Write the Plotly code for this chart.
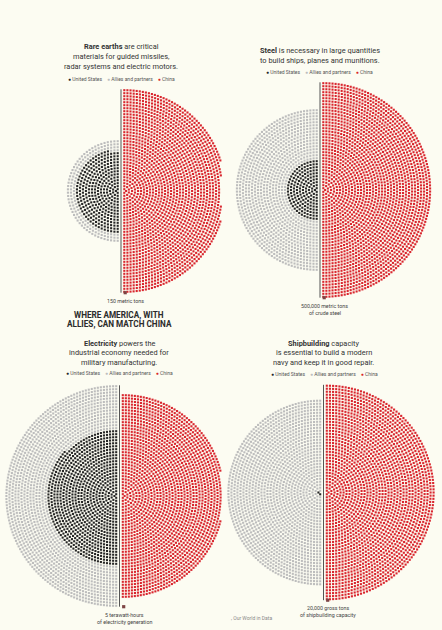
import numpy as np
import plotly.graph_objects as go

# ---------------- data (dots per panel) ----------------
panel_names = ["Rare earths", "Steel", "Electricity", "Shipbuilding"]
us_dots = [300, 165, 830, 2]
allies_dots = [140, 950, 1320, 1510]
china_dots = [1800, 2040, 1850, 1990]
unit_line1 = ["150 metric tons", "500,000 metric tons", "5 terawatt-hours", "20,000 gross tons"]
unit_line2 = ["", "of crude steel", "of electricity generation", "of shipbuilding capacity"]
title_lines = [
    ["<b>Rare earths</b> are critical", "materials for guided missiles,", "radar systems and electric motors."],
    ["<b>Steel</b> is necessary in large quantities", "to build ships, planes and munitions."],
    ["<b>Electricity</b> powers the", "industrial economy needed for", "military manufacturing."],
    ["<b>Shipbuilding</b> capacity", "is essential to build a modern", "navy and keep it in good repair."],
]
legend_labels = ["United States", "Allies and partners", "China"]
headline = ["WHERE AMERICA, WITH", "ALLIES, CAN MATCH CHINA"]
source_text = ", Our World in Data"

# ---------------- styling / layout ----------------
W, H = 442, 630
BG = "#fcfcf2"
C_US, C_AL, C_CN = "#262626", "#bdbdbd", "#d9262e"
PITCH = 3.0  # px per dot unit
FONT = "Roboto"
TXT = "#333333"

# panel boxes (px) and axis-line centre (px)
boxes = [(0, 221, 78, 302), (221, 442, 72, 308), (0, 221, 378, 614), (221, 442, 378, 614)]
centres = [(121, 191), (320, 190), (119.5, 496), (323.5, 492.5)]
title_y = [[46.7, 56.7, 66.3], [50.7, 60.3], [343.3, 352.7, 362.0], [343.3, 352.7, 362.3]]
title_x = [121, 320, 119.5, 323.7]
legend_y = [78.7, 72.0, 373.0, 374.3]
legend_x = [121, 319.7, 119.3, 324.8]


def px(x):
    return x / W


def py(y):
    return 1 - y / H


def ring_layout(n, side):
    # full ring capacities until n fits
    caps = []
    k = 0
    while sum(caps) < n:
        caps.append(int(round(np.pi * (k + 0.6))) + 1)
        k += 1
    caps = np.array(caps)
    deficit = caps.sum() - n
    # thin all rings proportionally so the outer edge stays crisp
    cut = np.floor(deficit * caps / caps.sum()).astype(int)
    rest = deficit - cut.sum()
    order = np.argsort(-caps)
    for idx in order[:rest]:
        cut[idx] += 1
    counts = caps - cut
    xs, ys = [], []
    for k, m in enumerate(counts):
        r = k + 0.6
        t = np.linspace(0, 1, m) if m > 1 else np.array([0.5])
        a = -np.pi / 2 + side * np.pi * t
        xs.extend(r * np.cos(a))
        ys.extend(r * np.sin(a))
    xs = np.array(xs[:n]) + side * 1.1
    ys = np.array(ys[:n])
    return xs, ys


fig = go.Figure()
shapes, annotations = [], []
layout_axes = {}

for i in range(4):
    sfx = "" if i == 0 else str(i + 1)
    xr, yr = "x" + sfx, "y" + sfx
    x0, x1, y0, y1 = boxes[i]
    cx, cy = centres[i]
    layout_axes["xaxis" + sfx] = dict(domain=[px(x0), px(x1)],
                                      range=[(x0 - cx) / PITCH, (x1 - cx) / PITCH],
                                      visible=False, fixedrange=True)
    layout_axes["yaxis" + sfx] = dict(domain=[py(y1), py(y0)],
                                      range=[(cy - y1) / PITCH, (cy - y0) / PITCH],
                                      visible=False, fixedrange=True)

    nl = us_dots[i] + allies_dots[i]
    lx, ly = ring_layout(nl, -1)
    rx, ry = ring_layout(china_dots[i], 1)
    nu = us_dots[i]
    mk = dict(symbol="square", size=2.1, line=dict(width=0))
    fig.add_trace(go.Scatter(x=lx[nu:], y=ly[nu:], mode="markers", xaxis=xr, yaxis=yr,
                             marker=dict(color=C_AL, **mk), cliponaxis=False,
                             hoverinfo="skip", showlegend=False))
    fig.add_trace(go.Scatter(x=lx[:nu], y=ly[:nu], mode="markers", xaxis=xr, yaxis=yr,
                             marker=dict(color=C_US, **mk), cliponaxis=False,
                             hoverinfo="skip", showlegend=False))
    fig.add_trace(go.Scatter(x=rx, y=ry, mode="markers", xaxis=xr, yaxis=yr,
                             marker=dict(color=C_CN, **mk), cliponaxis=False,
                             hoverinfo="skip", showlegend=False))

    L = max(np.max(np.hypot(lx + 1.1, ly)), np.max(np.hypot(rx - 1.1, ry))) + 0.3
    shapes.append(dict(type="line", xref=xr, yref=yr, x0=0, x1=0, y0=-L, y1=L,
                       line=dict(color="#555555", width=1)))
    # unit marker
    fig.add_trace(go.Scatter(x=[1.4], y=[-L], mode="markers", xaxis=xr, yaxis=yr,
                             marker=dict(symbol="square", size=3.2, color="#7d4444"),
                             cliponaxis=False, hoverinfo="skip", showlegend=False))
    annotations.append(dict(xref=xr, yref=yr, x=1.6, y=-L, yshift=-8, text=unit_line1[i],
                            showarrow=False, font=dict(family=FONT, size=5.3, color="#444444"),
                            xanchor="center", yanchor="middle"))
    if unit_line2[i]:
        annotations.append(dict(xref=xr, yref=yr, x=1.6, y=-L, yshift=-15, text=unit_line2[i],
                                showarrow=False, font=dict(family=FONT, size=5.3, color="#444444"),
                                xanchor="center", yanchor="middle"))

    for j, line in enumerate(title_lines[i]):
        annotations.append(dict(xref="paper", yref="paper", x=px(title_x[i]), y=py(title_y[i][j]),
                                text=line, showarrow=False,
                                font=dict(family=FONT, size=7.4, color=TXT),
                                xanchor="center", yanchor="middle"))
    leg = ("<span style='color:%s'>●</span> %s    <span style='color:%s'>●</span> %s    "
           "<span style='color:%s'>●</span> %s") % (C_US, legend_labels[0], C_AL, legend_labels[1],
                                                   C_CN, legend_labels[2])
    annotations.append(dict(xref="paper", yref="paper", x=px(legend_x[i]), y=py(legend_y[i]),
                            text=leg, showarrow=False,
                            font=dict(family=FONT, size=5.0, color="#555555"),
                            xanchor="center", yanchor="middle"))

for j, (t, yy) in enumerate(zip(headline, [314.7, 323.7])):
    annotations.append(dict(xref="paper", yref="paper", x=px(119.2), y=py(yy), text="<b>%s</b>" % t,
                            showarrow=False, font=dict(family=FONT, size=8.2, color="#2b2b2b"),
                            xanchor="center", yanchor="middle"))

annotations.append(dict(xref="paper", yref="paper", x=px(251), y=py(617.7), text=source_text,
                        showarrow=False, font=dict(family=FONT, size=5.0, color="#8a8a8a"),
                        xanchor="center", yanchor="middle"))

fig.update_layout(template="none", width=W, height=H, margin=dict(l=0, r=0, t=0, b=0),
                  font=dict(family=FONT, color=TXT),
                  paper_bgcolor=BG, plot_bgcolor=BG, shapes=shapes,
                  annotations=annotations, **layout_axes)

fig.write_html("out.html")
